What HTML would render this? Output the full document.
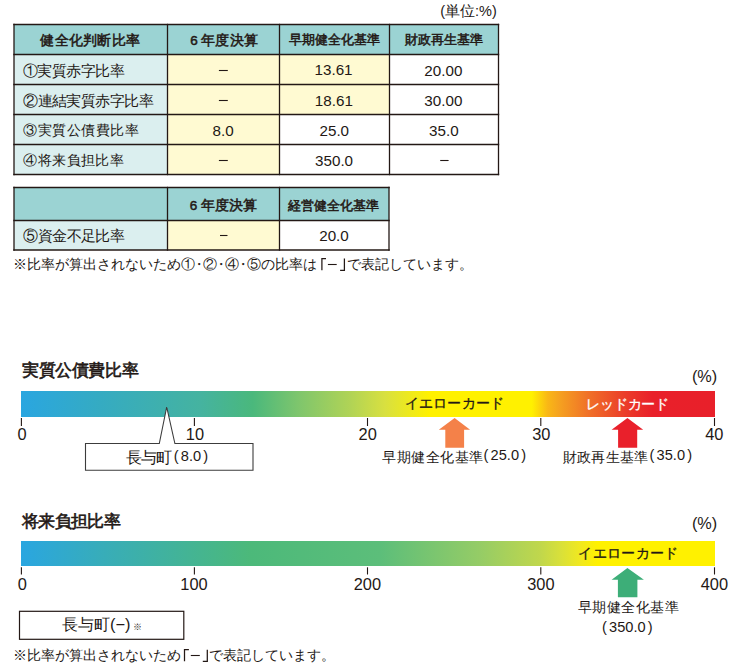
<!DOCTYPE html>
<html lang="ja"><head><meta charset="utf-8"><title>健全化判断比率</title>
<style>
*{margin:0;padding:0;box-sizing:border-box}
html,body{width:740px;height:669px;background:#fff;overflow:hidden}
body{position:relative;font-family:"Liberation Sans",sans-serif;color:#231815}
.tx{position:absolute;white-space:nowrap;line-height:1;transform-origin:0 0}
.bg{position:absolute}
.dot{margin:0 -3px}
.lb{margin-left:-7px}
.rb{margin-right:-7px}
</style></head><body>
<div class="bg" style="left:14px;top:24.5px;width:484.5px;height:30px;background:#9bd3d3"></div>
<div class="bg" style="left:14px;top:54.5px;width:153.5px;height:30px;background:#dbefef"></div>
<div class="bg" style="left:167.5px;top:54.5px;width:112px;height:30px;background:#fffad2"></div>
<div class="bg" style="left:279.5px;top:54.5px;width:110px;height:30px;background:#fffad2"></div>
<div class="bg" style="left:14px;top:84.5px;width:153.5px;height:30px;background:#dbefef"></div>
<div class="bg" style="left:167.5px;top:84.5px;width:112px;height:30px;background:#fffad2"></div>
<div class="bg" style="left:279.5px;top:84.5px;width:110px;height:30px;background:#fffad2"></div>
<div class="bg" style="left:14px;top:114.5px;width:153.5px;height:30px;background:#dbefef"></div>
<div class="bg" style="left:167.5px;top:114.5px;width:112px;height:30px;background:#fffad2"></div>
<div class="bg" style="left:14px;top:144.5px;width:153.5px;height:30px;background:#dbefef"></div>
<div class="bg" style="left:167.5px;top:144.5px;width:112px;height:30px;background:#fffad2"></div>
<div class="bg" style="left:14px;top:187.5px;width:375px;height:33px;background:#9bd3d3"></div>
<div class="bg" style="left:14px;top:220.5px;width:153.5px;height:29.5px;background:#dbefef"></div>
<div class="bg" style="left:167.5px;top:220.5px;width:112px;height:29.5px;background:#fffad2"></div>
<div class="bg" style="left:21px;top:391px;width:694px;height:25.8px;background:linear-gradient(to right,#2aa6e0 0%,#35abc2 11.4%,#45b3a0 25.8%,#4ab87c 33.4%,#80c66c 40.2%,#b0d356 47.4%,#d8e040 52.4%,#fff100 58.9%,#fff100 73.6%,#f9b716 75.9%,#f5a020 77.7%,#f07028 81.8%,#eb3d29 87%,#e9202a 91%,#e8202a 100%)"></div>
<div class="bg" style="left:21px;top:541px;width:694px;height:24.7px;background:linear-gradient(to right,#2aa6e0 0%,#38adb8 12.1%,#4cb97a 33%,#5cbe7a 51.7%,#95cc66 66.1%,#c0d74c 74.8%,#d8e03a 77.7%,#f0e820 80.5%,#fff100 83.1%,#fff100 100%)"></div>
<svg class="bg" style="left:0;top:0" width="740" height="669" viewBox="0 0 740 669">
<line x1="13.3" y1="24.5" x2="499.2" y2="24.5" stroke="#231815" stroke-width="1.3"/>
<line x1="13.3" y1="54.5" x2="499.2" y2="54.5" stroke="#231815" stroke-width="1.3"/>
<line x1="13.3" y1="84.5" x2="499.2" y2="84.5" stroke="#231815" stroke-width="1.3"/>
<line x1="13.3" y1="114.5" x2="499.2" y2="114.5" stroke="#231815" stroke-width="1.3"/>
<line x1="13.3" y1="144.5" x2="499.2" y2="144.5" stroke="#231815" stroke-width="1.3"/>
<line x1="13.3" y1="174.5" x2="499.2" y2="174.5" stroke="#231815" stroke-width="1.3"/>
<line x1="14" y1="23.8" x2="14" y2="175.2" stroke="#231815" stroke-width="1.3"/>
<line x1="167.5" y1="23.8" x2="167.5" y2="175.2" stroke="#231815" stroke-width="1.3"/>
<line x1="279.5" y1="23.8" x2="279.5" y2="175.2" stroke="#231815" stroke-width="1.3"/>
<line x1="389.5" y1="23.8" x2="389.5" y2="175.2" stroke="#231815" stroke-width="1.3"/>
<line x1="498.5" y1="23.8" x2="498.5" y2="175.2" stroke="#231815" stroke-width="1.3"/>
<line x1="13.3" y1="187.5" x2="389.7" y2="187.5" stroke="#231815" stroke-width="1.3"/>
<line x1="13.3" y1="220.5" x2="389.7" y2="220.5" stroke="#231815" stroke-width="1.3"/>
<line x1="13.3" y1="250" x2="389.7" y2="250" stroke="#231815" stroke-width="1.3"/>
<line x1="14" y1="186.8" x2="14" y2="250.7" stroke="#231815" stroke-width="1.3"/>
<line x1="167.5" y1="186.8" x2="167.5" y2="250.7" stroke="#231815" stroke-width="1.3"/>
<line x1="279.5" y1="186.8" x2="279.5" y2="250.7" stroke="#231815" stroke-width="1.3"/>
<line x1="389" y1="186.8" x2="389" y2="250.7" stroke="#231815" stroke-width="1.3"/>
<line x1="218.9" y1="70.5" x2="227.8" y2="70.5" stroke="#231815" stroke-width="1.1"/>
<line x1="218.9" y1="100.5" x2="227.8" y2="100.5" stroke="#231815" stroke-width="1.1"/>
<line x1="218.9" y1="160.5" x2="227.8" y2="160.5" stroke="#231815" stroke-width="1.1"/>
<line x1="440.2" y1="160.5" x2="448.6" y2="160.5" stroke="#231815" stroke-width="1.1"/>
<line x1="220" y1="235.5" x2="227.5" y2="235.5" stroke="#231815" stroke-width="1.1"/>
<line x1="21.4" y1="418" x2="21.4" y2="426" stroke="#231815" stroke-width="1.1"/>
<line x1="21.4" y1="567.3" x2="21.4" y2="574.5" stroke="#231815" stroke-width="1.1"/>
<line x1="194.4" y1="418" x2="194.4" y2="426" stroke="#231815" stroke-width="1.1"/>
<line x1="194.4" y1="567.3" x2="194.4" y2="574.5" stroke="#231815" stroke-width="1.1"/>
<line x1="367.5" y1="418" x2="367.5" y2="426" stroke="#231815" stroke-width="1.1"/>
<line x1="367.5" y1="567.3" x2="367.5" y2="574.5" stroke="#231815" stroke-width="1.1"/>
<line x1="540.8" y1="418" x2="540.8" y2="426" stroke="#231815" stroke-width="1.1"/>
<line x1="540.8" y1="567.3" x2="540.8" y2="574.5" stroke="#231815" stroke-width="1.1"/>
<line x1="714.5" y1="418" x2="714.5" y2="426" stroke="#231815" stroke-width="1.1"/>
<line x1="714.5" y1="567.3" x2="714.5" y2="574.5" stroke="#231815" stroke-width="1.1"/>
<path d="M85.5 443.5 H159.3 L166.7 407 L174.9 443.5 H253 V470.3 H85.5 Z" fill="#fff" stroke="#3c3c3c" stroke-width="1.1"/>
<polygon points="454.6,418 470.1,429.7 464.1,429.7 464.1,447.7 445.3,447.7 445.3,429.7 438.8,429.7" fill="#f48149"/>
<polygon points="627.4,418 643.2,429.7 637.2,429.7 637.2,447.7 618.1,447.7 618.1,429.7 611.6,429.7" fill="#e9202b"/>
<polygon points="627.4,568.1 643.9,579.8 637.4,579.8 637.4,597.3 617.9,597.3 617.9,579.8 611.6,579.8" fill="#3dae78"/>
<path d="M326 258.6 H321.9 V270.3" fill="none" stroke="#231815" stroke-width="1.25"/>
<line x1="327.9" y1="264.5" x2="336.7" y2="264.5" stroke="#231815" stroke-width="1.1"/>
<path d="M340.1 270.3 H344.4 V258.6" fill="none" stroke="#231815" stroke-width="1.25"/>
<path d="M188.9 649.7 H184.5 V661.3" fill="none" stroke="#231815" stroke-width="1.25"/>
<line x1="190.8" y1="655.5" x2="199.8" y2="655.5" stroke="#231815" stroke-width="1.1"/>
<path d="M202.8 661.3 H207.3 V649.7" fill="none" stroke="#231815" stroke-width="1.25"/>
<rect x="19.5" y="611.3" width="164.3" height="28" fill="none" stroke="#231815" stroke-width="1.2"/>
</svg>
<div class="tx" id="unit" style="left:440.20px;top:3.75px;font-size:14px;font-size:14.50px;">(単位:%)</div>
<div class="tx" id="h1" style="left:40.35px;top:34.00px;font-size:14px;-webkit-text-stroke:0.5px currentColor;font-size:13.50px;letter-spacing:0.28px;">健全化判断比率</div>
<div class="tx" id="h2" style="left:190.35px;top:34.20px;font-size:14px;-webkit-text-stroke:0.5px currentColor;font-size:13.50px;letter-spacing:0.27px;">6<span style="margin-left:3px"></span>年度決算</div>
<div class="tx" id="h3" style="left:288.95px;top:34.45px;font-size:14px;-webkit-text-stroke:0.5px currentColor;font-size:12.50px;">早期健全化基準</div>
<div class="tx" id="h4" style="left:405.05px;top:34.45px;font-size:14px;-webkit-text-stroke:0.5px currentColor;font-size:12.50px;">財政再生基準</div>
<div class="tx" id="r1" style="left:22.90px;top:64.05px;font-size:14px;font-size:14.50px;letter-spacing:-0.55px;">①実質赤字比率</div>
<div class="tx" id="r2" style="left:23.10px;top:93.50px;font-size:14px;font-size:14.50px;letter-spacing:-0.55px;">②連結実質赤字比率</div>
<div class="tx" id="r3" style="left:23.10px;top:123.50px;font-size:14px;font-size:13.50px;letter-spacing:0.56px;">③実質公債費比率</div>
<div class="tx" id="r4" style="left:23.10px;top:153.90px;font-size:14px;font-size:13.50px;letter-spacing:0.47px;">④将来負担比率</div>
<div class="tx" id="c80" style="left:212.60px;top:122.70px;font-size:15.2px;font-size:15.20px;">8.0</div>
<div class="tx" id="c1361" style="left:314.55px;top:62.35px;font-size:15.2px;font-size:15.20px;">13.61</div>
<div class="tx" id="c1861" style="left:314.85px;top:92.70px;font-size:15.2px;font-size:15.20px;">18.61</div>
<div class="tx" id="c250" style="left:319.50px;top:123.05px;font-size:15.2px;font-size:15.20px;">25.0</div>
<div class="tx" id="c3500" style="left:315.05px;top:152.75px;font-size:15.2px;font-size:15.20px;">350.0</div>
<div class="tx" id="c2000" style="left:424.35px;top:62.80px;font-size:15.2px;font-size:15.20px;">20.00</div>
<div class="tx" id="c3000" style="left:424.35px;top:93.05px;font-size:15.2px;font-size:15.20px;">30.00</div>
<div class="tx" id="c350" style="left:429.10px;top:122.60px;font-size:15.2px;font-size:15.20px;">35.0</div>
<div class="tx" id="t2h2" style="left:189.85px;top:199.10px;font-size:14px;-webkit-text-stroke:0.5px currentColor;font-size:13.50px;letter-spacing:0.27px;">6<span style="margin-left:3px"></span>年度決算</div>
<div class="tx" id="t2h3" style="left:288.40px;top:199.60px;font-size:14px;-webkit-text-stroke:0.5px currentColor;font-size:12.50px;">経営健全化基準</div>
<div class="tx" id="r5" style="left:23.10px;top:228.95px;font-size:14px;font-size:14.50px;letter-spacing:-0.52px;">⑤資金不足比率</div>
<div class="tx" id="c200b" style="left:319.20px;top:227.85px;font-size:15.2px;font-size:15.20px;">20.0</div>
<div class="tx" id="note1a" style="left:12.90px;top:257.15px;font-size:14px;font-size:14.00px;">※比率が算出されないため①<span class="dot">・</span>②<span class="dot">・</span>④<span class="dot">・</span>⑤の比率は</div>
<div class="tx" id="note1b" style="left:347.00px;top:257.15px;font-size:14px;font-size:14.00px;">で表記しています。</div>
<div class="tx" id="title1" style="left:21.90px;top:362.15px;font-size:16px;-webkit-text-stroke:0.6px currentColor;font-size:16.50px;letter-spacing:-0.38px;">実質公債費比率</div>
<div class="tx" id="pct1" style="left:691.90px;top:367.50px;font-size:14px;font-size:16.30px;">(%)</div>
<div class="tx" id="yel1" style="left:405.05px;top:397.30px;font-size:14px;-webkit-text-stroke:0.3px currentColor;font-size:13.50px;letter-spacing:0.12px;">イエローカード</div>
<div class="tx" id="red1" style="left:586.25px;top:397.65px;font-size:14px;-webkit-text-stroke:0.3px currentColor;color:#fff;font-size:13.50px;letter-spacing:-0.20px;">レッドカード</div>
<div class="tx" id="a0" style="left:17.55px;top:425.95px;font-size:16.4px;font-size:16.40px;">0</div>
<div class="tx" id="a10" style="left:185.80px;top:425.90px;font-size:16.4px;font-size:16.40px;">10</div>
<div class="tx" id="a20" style="left:358.60px;top:426.00px;font-size:16.4px;font-size:16.40px;">20</div>
<div class="tx" id="a30" style="left:532.15px;top:426.00px;font-size:16.4px;font-size:16.40px;">30</div>
<div class="tx" id="a40" style="left:705.25px;top:425.95px;font-size:16.4px;font-size:16.40px;">40</div>
<div class="tx" id="cb1a" style="left:125.55px;top:450.35px;font-size:14px;font-size:15.50px;letter-spacing:-0.75px;">長与町</div>
<div class="tx" id="cb1b" style="left:173.75px;top:448.90px;font-size:14.6px;font-size:14.60px;">(<span style="margin:0 2.2px">8.0</span>)</div>
<div class="tx" id="lb25a" style="left:382.40px;top:450.85px;font-size:14px;font-size:13.50px;letter-spacing:0.43px;">早期健全化基準</div>
<div class="tx" id="lb25b" style="left:483.55px;top:448.30px;font-size:14.6px;font-size:14.60px;">(<span style="margin:0 2.2px">25.0</span>)</div>
<div class="tx" id="lb35a" style="left:562.65px;top:450.85px;font-size:14px;font-size:13.50px;letter-spacing:0.32px;">財政再生基準</div>
<div class="tx" id="lb35b" style="left:649.55px;top:448.30px;font-size:14.6px;font-size:14.60px;">(<span style="margin:0 2.2px">35.0</span>)</div>
<div class="tx" id="title2" style="left:21.90px;top:513.00px;font-size:16px;-webkit-text-stroke:0.6px currentColor;font-size:16.50px;letter-spacing:-0.60px;">将来負担比率</div>
<div class="tx" id="pct2" style="left:691.90px;top:515.15px;font-size:14px;font-size:16.30px;">(%)</div>
<div class="tx" id="yel2" style="left:578.40px;top:547.35px;font-size:14px;-webkit-text-stroke:0.3px currentColor;font-size:13.50px;letter-spacing:0.30px;">イエローカード</div>
<div class="tx" id="b0" style="left:17.70px;top:576.20px;font-size:16.4px;font-size:16.40px;">0</div>
<div class="tx" id="b100" style="left:180.30px;top:576.00px;font-size:16.4px;font-size:16.40px;">100</div>
<div class="tx" id="b200" style="left:353.75px;top:576.00px;font-size:16.4px;font-size:16.40px;">200</div>
<div class="tx" id="b300" style="left:527.20px;top:576.00px;font-size:16.4px;font-size:16.40px;">300</div>
<div class="tx" id="b400" style="left:700.70px;top:575.90px;font-size:16.4px;font-size:16.40px;">400</div>
<div class="tx" id="cb2" style="left:62.00px;top:616.30px;font-size:14px;font-size:16.40px;">長与町(−)<span style="font-size:9px;margin-left:2px">※</span></div>
<div class="tx" id="lb350a" style="left:577.75px;top:600.65px;font-size:14px;font-size:13.50px;letter-spacing:0.48px;">早期健全化基準</div>
<div class="tx" id="lb350b" style="left:602.00px;top:619.70px;font-size:14.6px;font-size:14.60px;">(<span style="margin:0 2.2px">350.0</span>)</div>
<div class="tx" id="note2a" style="left:12.90px;top:648.15px;font-size:14px;font-size:14.00px;">※比率が算出されないため</div>
<div class="tx" id="note2b" style="left:208.70px;top:648.15px;font-size:14px;font-size:14.00px;">で表記しています。</div>
</body></html>
